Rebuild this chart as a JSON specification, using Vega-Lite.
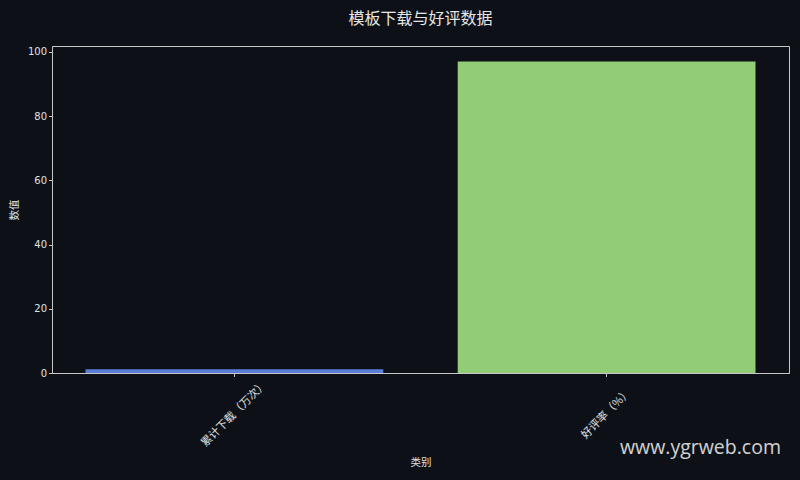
{
  "$schema": "https://vega.github.io/schema/vega-lite/v6.json",
  "width": 737,
  "height": 327,
  "autosize": "none",
  "padding": {"left": 52, "top": 46, "right": 11, "bottom": 107},
  "background": "#0d1117",
  "title": {
    "text": "模板下载与好评数据",
    "font": "Noto Sans CJK SC",
    "fontSize": 16,
    "fontWeight": "normal",
    "color": "#e6e6e6",
    "offset": 19
  },
  "config": {
    "view": {"stroke": "#c8c8c8", "strokeWidth": 1},
    "axis": {
      "grid": false,
      "domainColor": "#c8c8c8",
      "tickColor": "#c8c8c8",
      "tickSize": 3.5,
      "labelColor": "#e0e0e0",
      "labelFont": "DejaVu Sans",
      "labelFontSize": 10,
      "titleColor": "#e0e0e0",
      "titleFont": "Noto Sans CJK SC",
      "titleFontSize": 10.5,
      "titleFontWeight": "normal"
    }
  },
  "layer": [
    {
      "data": {
        "values": [
          {"类别": "累计下载（万次）", "数值": 1.2},
          {"类别": "好评率（%）", "数值": 97}
        ]
      },
      "mark": {"type": "bar"},
      "encoding": {
        "x": {
          "field": "类别",
          "type": "nominal",
          "sort": null,
          "scale": {"paddingInner": 0.2, "paddingOuter": 0.09},
          "axis": {
            "labelAngle": -45,
            "labelAlign": "center",
            "labelBaseline": "middle",
            "labelFont": "Noto Sans CJK SC",
            "labelFontSize": 11,
            "labelPadding": 37,
            "titlePadding": 9
          }
        },
        "y": {
          "field": "数值",
          "type": "quantitative",
          "scale": {"domain": [0, 101.85], "nice": false},
          "axis": {"values": [0, 20, 40, 60, 80, 100], "titlePadding": 8}
        },
        "color": {
          "field": "类别",
          "type": "nominal",
          "scale": {"domain": ["累计下载（万次）", "好评率（%）"], "range": ["#5b7fd8", "#93cc76"]},
          "legend": null
        },
        "tooltip": [
          {"field": "类别", "type": "nominal"},
          {"field": "数值", "type": "quantitative"}
        ]
      }
    },
    {
      "data": {"values": [{"label": "www.ygrweb.com"}]},
      "mark": {
        "type": "text",
        "align": "right",
        "baseline": "middle",
        "font": "Open Sans",
        "fontSize": 19.5,
        "color": "#e6e6e6",
        "opacity": 0.9,
        "dx": -8,
        "dy": 75,
        "clip": false
      },
      "encoding": {
        "x": {"value": "width"},
        "y": {"value": "height"},
        "text": {"field": "label"}
      }
    }
  ]
}
